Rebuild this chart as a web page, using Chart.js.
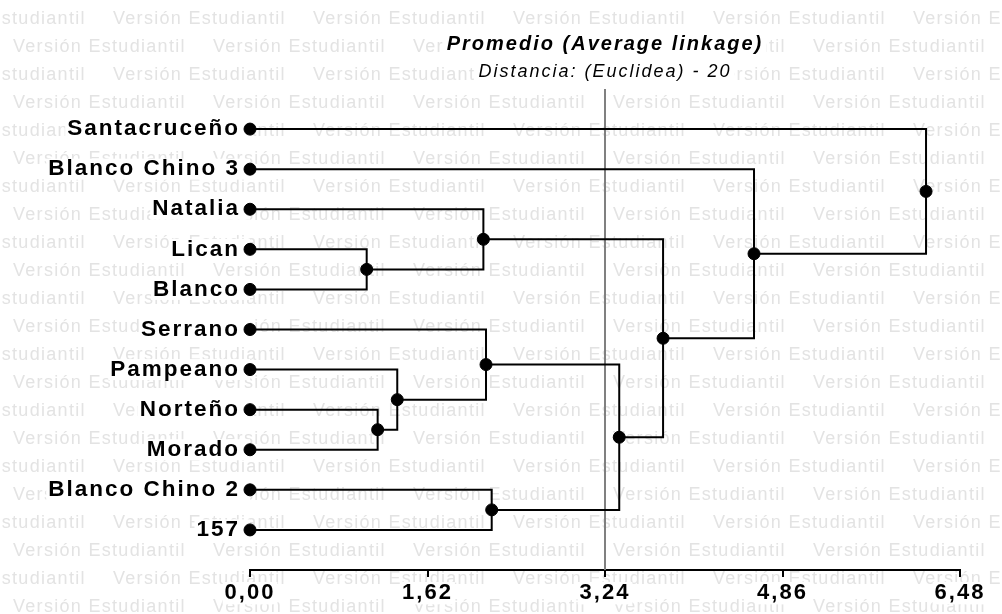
<!DOCTYPE html>
<html>
<head>
<meta charset="utf-8">
<script src="https://cdn.jsdelivr.net/npm/chart.js@4.4.0/dist/chart.umd.min.js"></script>
<style>
  html, body { margin: 0; padding: 0; background: #fff; }
  canvas { display: block; }
</style>
</head>
<body>
<canvas id="dendro" width="1002" height="614"></canvas>
<script>
// hojas del dendrograma, de arriba hacia abajo
const leafNames = ['Santacruceño', 'Blanco Chino 3', 'Natalia', 'Lican', 'Blanco', 'Serrano',
                   'Pampeano', 'Norteño', 'Morado', 'Blanco Chino 2', '157'];
// uniones: hijo izquierdo / derecho (0-10 hojas, 11+ nodos anteriores) y distancia
const mergeLeft   = [3, 7, 6, 2, 5, 9, 15, 14, 1, 0];
const mergeRight  = [4, 8, 12, 11, 13, 10, 16, 17, 18, 19];
const mergeHeight = [1.065, 1.165, 1.344, 2.13, 2.154, 2.206, 3.37, 3.77, 4.60, 6.17];
const distTicks   = [0, 1.62, 3.24, 4.86, 6.48];
const cutDistance = 3.24;

const FONT = "'Liberation Sans', Arial, sans-serif";
const TITLE = 'Promedio (Average linkage)';
const SUBTITLE = 'Distancia: (Euclidea) - 20';

// posiciones de hojas y nodos
const pos = leafNames.map((_, i) => ({ x: 0, y: i }));
mergeHeight.forEach((h, m) => {
    const a = pos[mergeLeft[m]], b = pos[mergeRight[m]];
    pos.push({ x: h, y: (a.y + b.y) / 2 });
});

const lineSets = mergeHeight.map((h, m) => {
    const a = pos[mergeLeft[m]], b = pos[mergeRight[m]];
    return {
        data: [{ x: a.x, y: a.y }, { x: h, y: a.y }, { x: h, y: b.y }, { x: b.x, y: b.y }],
        showLine: true,
        borderColor: '#000',
        borderWidth: 2,
        pointRadius: 0,
        clip: false,
        order: 1
    };
});

const setSpacing = (chart) => { chart.ctx.letterSpacing = '2px'; };

const watermark = {
    id: 'watermark',
    beforeUpdate: setSpacing,
    beforeLayout: setSpacing,
    beforeDraw(chart) {
        const ctx = chart.ctx;
        ctx.save();
        ctx.fillStyle = '#fff';
        ctx.fillRect(0, 0, chart.width, chart.height);
        ctx.font = '18px ' + FONT;
        ctx.letterSpacing = '1.3px';
        ctx.fillStyle = '#e3e3e3';
        ctx.textBaseline = 'middle';
        for (let k = 0; k < 22; k++) {
            const y = 19.5 + k * 28;
            for (let x = (k % 2 ? 13 : -87); x < chart.width; x += 200) {
                ctx.fillText('Versión Estudiantil', x, y);
            }
        }
        // fondo blanco detrás del título y subtítulo
        const tb = chart.titleBlock;
        const cx = (tb.left + tb.right) / 2;
        ctx.letterSpacing = '2px';
        ctx.fillStyle = '#fff';
        ctx.font = 'italic bold 20px ' + FONT;
        let w = ctx.measureText(TITLE).width;
        ctx.fillRect(cx - w / 2 - 3, tb.top + 33, w + 6, 22);
        ctx.font = 'italic 18px ' + FONT;
        w = ctx.measureText(SUBTITLE).width;
        ctx.fillRect(cx - w / 2 - 3, tb.bottom + 5.5, w + 6, 21);
        ctx.restore();
        ctx.letterSpacing = '2px';
    }
};

new Chart(document.getElementById('dendro'), {
    type: 'scatter',
    data: {
        datasets: [
            {
                data: pos,
                backgroundColor: '#000',
                borderColor: '#000',
                pointRadius: 6,
                pointBorderWidth: 1,
                clip: false,
                order: 0
            },
            ...lineSets,
            {
                data: [{ x: cutDistance, y: -1 }, { x: cutDistance, y: 11 }],
                showLine: true,
                borderColor: '#808080',
                borderWidth: 2,
                pointRadius: 0,
                clip: false,
                order: 2
            }
        ]
    },
    options: {
        responsive: false,
        animation: false,
        events: [],
        layout: { padding: { left: 0, right: 42, top: 0, bottom: 0 } },
        plugins: {
            legend: { display: false },
            tooltip: { enabled: false },
            title: {
                display: true,
                text: TITLE,
                fullSize: false,
                color: '#000',
                font: { family: FONT, size: 20, style: 'italic', weight: 'bold' },
                padding: { top: 32, bottom: 0 }
            },
            subtitle: {
                display: true,
                text: SUBTITLE,
                fullSize: false,
                color: '#000',
                font: { family: FONT, size: 18, style: 'italic' },
                padding: { top: 5.2, bottom: 6.2 }
            }
        },
        scales: {
            x: {
                type: 'linear',
                min: 0,
                max: 6.48,
                afterBuildTicks: (scale) => { scale.ticks = distTicks.map(v => ({ value: v })); },
                afterFit: (scale) => { scale.height = 44; },
                border: { display: true, color: '#000', width: 2 },
                grid: { drawOnChartArea: false, drawTicks: true, tickLength: 7, color: '#000', lineWidth: 2 },
                ticks: {
                    color: '#000',
                    padding: 3,
                    maxRotation: 0,
                    font: { family: FONT, size: 22, weight: 'bold' },
                    callback: (v) => v.toFixed(2).replace('.', ','),
                    showLabelBackdrop: true,
                    backdropColor: '#fff',
                    backdropPadding: { top: -2, bottom: -2, left: 2, right: 2 }
                }
            },
            y: {
                type: 'linear',
                min: -1,
                max: 11,
                reverse: true,
                afterBuildTicks: (scale) => { scale.ticks = leafNames.map((_, i) => ({ value: i })); },
                afterFit: (scale) => { scale.width = 250; },
                border: { display: false },
                grid: { display: false, drawTicks: false },
                ticks: {
                    color: '#000',
                    padding: 10,
                    font: { family: FONT, size: 22.5, weight: 'bold' },
                    callback: (v) => leafNames[v],
                    showLabelBackdrop: true,
                    backdropColor: '#fff',
                    backdropPadding: { top: -3, bottom: -3, left: 2, right: 24 }
                }
            }
        }
    },
    plugins: [watermark]
});
</script>
</body>
</html>
